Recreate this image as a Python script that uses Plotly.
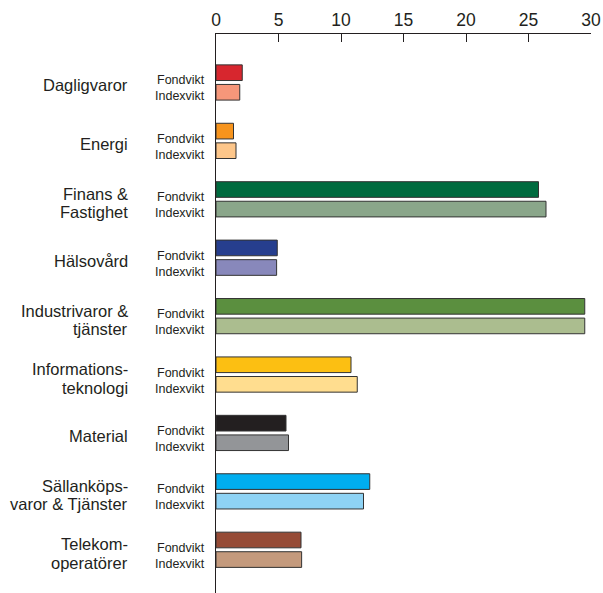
import plotly.graph_objects as go

categories = ["Dagligvaror", "Energi", "Finans &<br>Fastighet", "Hälsovård",
              "Industrivaror &<br>tjänster", "Informations-<br>teknologi", "Material",
              "Sällanköps-<br>varor & Tjänster", "Telekom-<br>operatörer"]
fondvikt = [2.1, 1.4, 25.8, 4.9, 29.5, 10.8, 5.6, 12.3, 6.8]
indexvikt = [1.9, 1.6, 26.4, 4.85, 29.5, 11.3, 5.8, 11.8, 6.85]
fond_colors = ["#d7262e", "#f7941d", "#006b3f", "#263e8e", "#5b8f3f",
               "#fcbf12", "#231f20", "#00aeef", "#964b36"]
index_colors = ["#f6977a", "#fdc68a", "#8aa68a", "#8888bb", "#abbd8f",
                "#ffdd8f", "#939598", "#8ed3f5", "#c49a7d"]
x_ticks = [0, 5, 10, 15, 20, 25, 30]

ids = list(range(len(categories)))
line_col = "#231f20"
font = "Liberation Sans, Arial, sans-serif"

fig = go.Figure()
fig.add_trace(go.Bar(y=ids, x=fondvikt, orientation="h", name="Fondvikt",
                     marker=dict(color=fond_colors, line=dict(color="#333333", width=1))))
fig.add_trace(go.Bar(y=ids, x=indexvikt, orientation="h", name="Indexvikt",
                     marker=dict(color=index_colors, line=dict(color="#333333", width=1))))

ann = []
for i, c in enumerate(categories):
    lines = c.split("<br>")
    shifts = [-3] if len(lines) == 1 else [5.5, -13]
    for ln, ys in zip(lines, shifts):
        ann.append(dict(x=-0.229, xref="paper", y=i, yref="y", text=ln, showarrow=False,
                        xanchor="right", align="right", yshift=ys,
                        font=dict(size=16.5, color=line_col, family=font)))
    ann.append(dict(x=-0.024, xref="paper", y=i, yref="y", text="Fondvikt", showarrow=False,
                    xanchor="right", yshift=2,
                    font=dict(size=12.5, color=line_col, family=font)))
    ann.append(dict(x=-0.024, xref="paper", y=i, yref="y", text="Indexvikt", showarrow=False,
                    xanchor="right", yshift=-14,
                    font=dict(size=12.5, color=line_col, family=font)))

fig.update_layout(
    width=603, height=593,
    margin=dict(l=216, r=12, t=34, b=0),
    paper_bgcolor="white", plot_bgcolor="white",
    barmode="group", bargap=0.33, bargroupgap=0.2,
    showlegend=False,
    annotations=ann,
    font=dict(family=font, color=line_col),
    xaxis=dict(side="top", range=[0, 30], tickvals=x_ticks, ticks="inside", ticklen=8,
               tickcolor=line_col, showline=True, linecolor=line_col, linewidth=1,
               showgrid=False, zeroline=False, tickfont=dict(size=17.5, color=line_col)),
    yaxis=dict(range=[8.74, -0.83], showticklabels=False, ticks="", showline=True,
               linecolor=line_col, linewidth=1, showgrid=False, zeroline=False),
)

fig.write_html("out.html", config={"displayModeBar": False},
               post_script="document.body.style.margin='0';document.documentElement.style.overflow='hidden';")
